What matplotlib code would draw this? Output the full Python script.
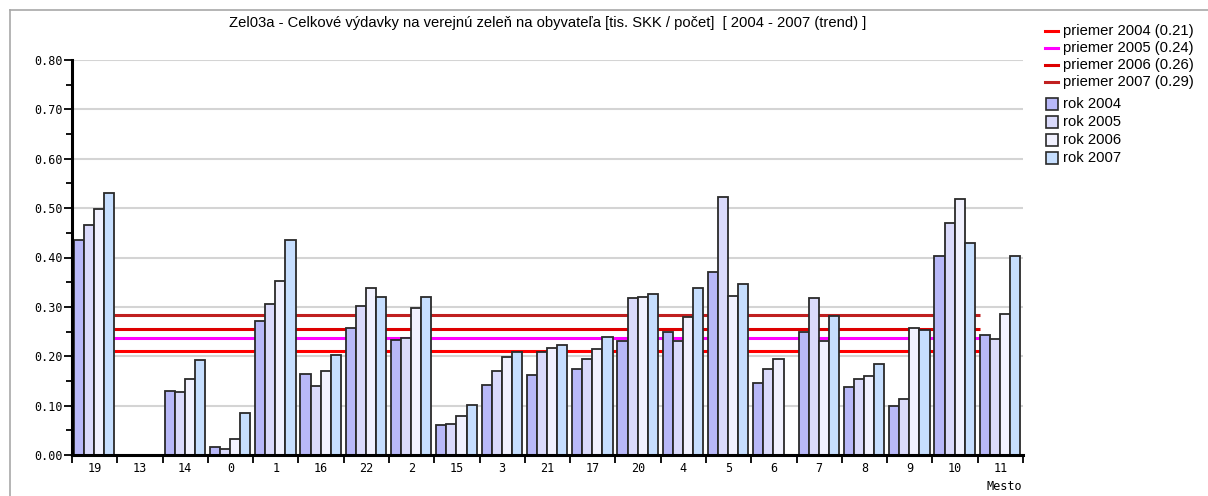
import matplotlib
matplotlib.use('Agg')
import matplotlib.pyplot as plt
from matplotlib.patches import Rectangle
from matplotlib.lines import Line2D
from matplotlib.ticker import MultipleLocator, FormatStrFormatter, FixedLocator, NullFormatter

# ---------------- data ----------------
cities = ['19', '13', '14', '0', '1', '16', '22', '2', '15', '3', '21',
          '17', '20', '4', '5', '6', '7', '8', '9', '10', '11']
rok2004 = [0.435, 0, 0.130, 0.017, 0.272, 0.165, 0.258, 0.232, 0.060, 0.142, 0.163,
           0.175, 0.230, 0.250, 0.370, 0.145, 0.250, 0.138, 0.100, 0.404, 0.244]
rok2005 = [0.465, 0, 0.127, 0.013, 0.305, 0.140, 0.302, 0.236, 0.063, 0.170, 0.208,
           0.195, 0.318, 0.230, 0.523, 0.175, 0.318, 0.153, 0.113, 0.469, 0.235]
rok2006 = [0.498, 0, 0.153, 0.033, 0.353, 0.170, 0.338, 0.298, 0.078, 0.198, 0.217,
           0.215, 0.320, 0.280, 0.323, 0.195, 0.230, 0.160, 0.258, 0.518, 0.285]
rok2007 = [0.530, 0, 0.192, 0.085, 0.435, 0.202, 0.320, 0.320, 0.102, 0.208, 0.223,
           0.238, 0.327, 0.338, 0.347, 0, 0.282, 0.185, 0.253, 0.430, 0.404]
series = [rok2004, rok2005, rok2006, rok2007]
series_labels = ['rok 2004', 'rok 2005', 'rok 2006', 'rok 2007']
means = [0.210, 0.237, 0.255, 0.284]
mean_labels = ['priemer 2004 (0.21)', 'priemer 2005 (0.24)',
               'priemer 2006 (0.26)', 'priemer 2007 (0.29)']
title = ('Zel03a - Celkové výdavky na verejnú zeleň na obyvateľa '
         '[tis. SKK / počet]  [ 2004 - 2007 (trend) ]')
xlabel = 'Mesto'

# ---------------- style ----------------
bar_colors = ['#b8b8f8', '#dadafb', '#f1f1fe', '#c6defe']
mean_colors = ['#ff0000', '#ff00ff', '#dd0000', '#c02020']
W, H = 1208, 496
sans = ['Liberation Sans', 'DejaVu Sans']
mono = ['DejaVu Sans Mono']

fig = plt.figure(figsize=(W / 100, H / 100), dpi=100)
fig.patch.set_facecolor('white')

def fx(px):
    return px / W

def fy(py):
    return 1 - py / H

ax_l, ax_r, ax_t, ax_b = 72, 1023, 60, 455
ax = fig.add_axes([fx(ax_l), fy(ax_b), fx(ax_r - ax_l), (ax_b - ax_t) / H])
ax.set_facecolor('white')

n = len(cities)
gpx = (ax_r - ax_l) / n
bw = 10.1 / gpx
off = 2.0 / gpx

for j, vals in enumerate(series):
    xs, hs = [], []
    for i, v in enumerate(vals):
        if v > 0:
            xs.append(i + off + j * bw)
            hs.append(v)
    ax.bar(xs, hs, width=bw, align='edge', color=bar_colors[j],
           edgecolor='#2a2a2a', linewidth=1.3, zorder=3)

# mean lines: from end of first group's bars to start of last group's bars
x0 = off + 4 * bw
x1 = (n - 1) + off
for m, c in zip(means, mean_colors):
    ax.plot([x0, x1], [m, m], color=c, linewidth=2.2, zorder=2,
            solid_capstyle='butt')

ax.set_xlim(0, n)
ax.set_ylim(0, 0.8)

ax.yaxis.set_major_locator(MultipleLocator(0.1))
ax.yaxis.set_minor_locator(MultipleLocator(0.05))
ax.yaxis.set_major_formatter(FormatStrFormatter('%.2f'))
ax.grid(axis='y', which='major', color='#d4d4d4', linewidth=1.5, zorder=1)
ax.set_axisbelow(True)

ax.xaxis.set_major_locator(FixedLocator(list(range(n + 1))))
ax.xaxis.set_major_formatter(NullFormatter())
ax.xaxis.set_minor_locator(FixedLocator([i + 0.5 for i in range(n)]))
ax.set_xticklabels(cities, minor=True)

ax.tick_params(axis='y', which='major', direction='out', length=6, width=1.3,
               pad=1, labelsize=8.5, colors='black')
ax.tick_params(axis='y', which='minor', direction='out', length=4, width=1.3)
ax.tick_params(axis='x', which='major', direction='out', length=6, width=1.3)
ax.tick_params(axis='x', which='minor', length=0, pad=5, labelsize=8.5)
for lab in ax.get_yticklabels() + ax.get_xticklabels(minor=True):
    lab.set_family(mono)

for s in ['top', 'right']:
    ax.spines[s].set_visible(False)
for s in ['left', 'bottom']:
    ax.spines[s].set_linewidth(2.2)
    ax.spines[s].set_color('black')
    ax.spines[s].set_zorder(5)

# x axis label (bottom right)
fig.text(fx(1022), fy(487), xlabel, ha='right', va='center',
         family=mono, fontsize=8.5)

# title
fig.text(fx(548), fy(23), title, ha='center', va='center',
         family=sans, fontsize=10.6)

# outer frame (left & top edges)
fig.add_artist(Line2D([fx(10), fx(10)], [fy(10), 0], transform=fig.transFigure,
                      color='#a8a8a8', linewidth=1.2))
fig.add_artist(Line2D([fx(10), 1], [fy(10), fy(10)], transform=fig.transFigure,
                      color='#a8a8a8', linewidth=1.2))

# legend
line_rows = [31, 48, 65, 82]
box_rows = [104, 122, 140, 158]
for lab, c, yy in zip(mean_labels, mean_colors, line_rows):
    fig.add_artist(Line2D([fx(1045), fx(1058)], [fy(yy), fy(yy)],
                          transform=fig.transFigure, color=c, linewidth=2.2))
    fig.text(fx(1063), fy(yy), lab, ha='left', va='center', family=sans,
             fontsize=10.6)
for lab, c, yy in zip(series_labels, bar_colors, box_rows):
    fig.add_artist(Rectangle((fx(1046), fy(yy + 6)), fx(12), 12 / H,
                             transform=fig.transFigure, facecolor=c,
                             edgecolor='#2a2a2a', linewidth=1.2))
    fig.text(fx(1063), fy(yy), lab, ha='left', va='center', family=sans,
             fontsize=10.6)

fig.savefig('out.png', dpi=100, facecolor='white')
